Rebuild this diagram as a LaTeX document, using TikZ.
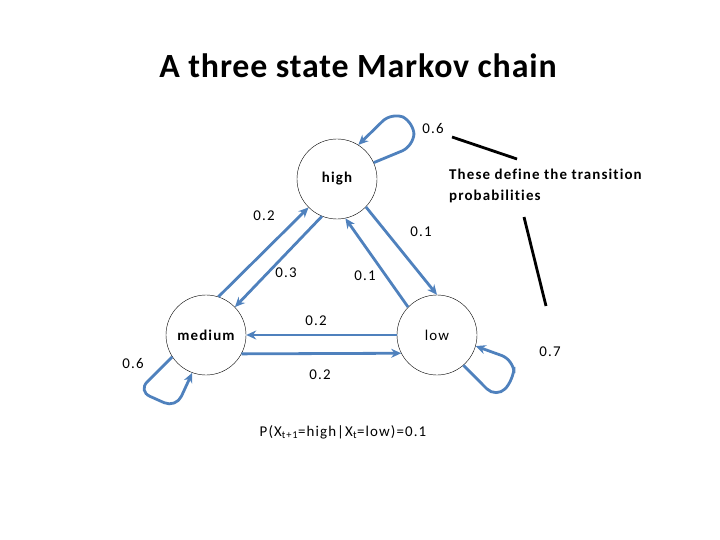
\documentclass[tikz,border=0pt]{standalone}
\usepackage{fontspec}
\setmainfont{Carlito}[LetterSpace=7.5, Ligatures=NoCommon]
\newfontfamily\titlefont{Carlito}[LetterSpace=2.5]
\usetikzlibrary{arrows.meta}
\definecolor{ChainBlue}{HTML}{4F81BD}
\tikzset{
  chainstate/.style={draw=black, circle, minimum size=80bp, inner sep=0pt, font=\fontsize{15}{18}\selectfont},
  prob/.style={font=\fontsize{15}{18}\selectfont, inner sep=0pt},
  trans/.style={-{Stealth[length=10bp, width=9bp]}, line width=2.8bp, draw=ChainBlue},
  loopedge/.style={trans, rounded corners=13bp},
  pointer/.style={line width=2.8bp, draw=black},
}
\begin{document}
\begin{tikzpicture}[x=1bp, y=-1bp]
  \useasboundingbox (0,0) rectangle (720,540);
  \node[font=\titlefont\bfseries\fontsize{34}{40}\selectfont, anchor=base] (title) at (358,78) {A three state Markov chain};
  % states
  \node[chainstate, font=\bfseries\fontsize{15}{18}\selectfont] (high) at (337,179) {high};
  \node[chainstate, font=\bfseries\fontsize{15}{18}\selectfont] (medium) at (206,335) {medium};
  \node[chainstate] (low) at (437,335) {low};
  % transitions
  \draw[trans] (medium.72) -- (high.225);
  \draw[trans] (high.248) -- (medium.44);
  \draw[trans] (low.136) -- (high.282);
  \draw[trans] (high.316) -- (low.90);
  \draw[trans] (low.180) -- (medium.0);
  \draw[trans] (medium.-28) -- (low.207);
  \draw[loopedge] (high.24) -- (414,146) -- (414,122) -- (392,112) -- (high.58);
  \draw[loopedge] (medium.213) -- (138,391) -- (176,408) -- (medium.250);
  \draw[loopedge] (low.311) -- (496,398) -- (514,380) -- (514,360) -- (low.344);
  % probabilities
  \node[prob] (phh) at (433,129) {0.6};
  \node[prob] (pmh) at (264,216) {0.2};
  \node[prob] (phl) at (421,232) {0.1};
  \node[prob] (phm) at (286,273) {0.3};
  \node[prob] (plh) at (365,276) {0.1};
  \node[prob] (plm) at (316,321) {0.2};
  \node[prob] (pml) at (320,375) {0.2};
  \node[prob] (pmm) at (133,364) {0.6};
  \node[prob] (pll) at (550,352) {0.7};
  % note
  \node[font=\bfseries\fontsize{15}{21}\selectfont, anchor=north west, align=left, inner sep=0pt] (note) at (449,169) {These define the transition\\probabilities};
  \coordinate (ptra) at (452,137);
  \coordinate (ptrb) at (517,159);
  \coordinate (ptrc) at (524,217);
  \coordinate (ptrd) at (546,306);
  \draw[pointer] (ptra) -- (ptrb);
  \draw[pointer] (ptrc) -- (ptrd);
  \node[prob] (example) at (343,432) {P(X\textsubscript{t+1}=high|X\textsubscript{t}=low)=0.1};
\end{tikzpicture}
\end{document}
